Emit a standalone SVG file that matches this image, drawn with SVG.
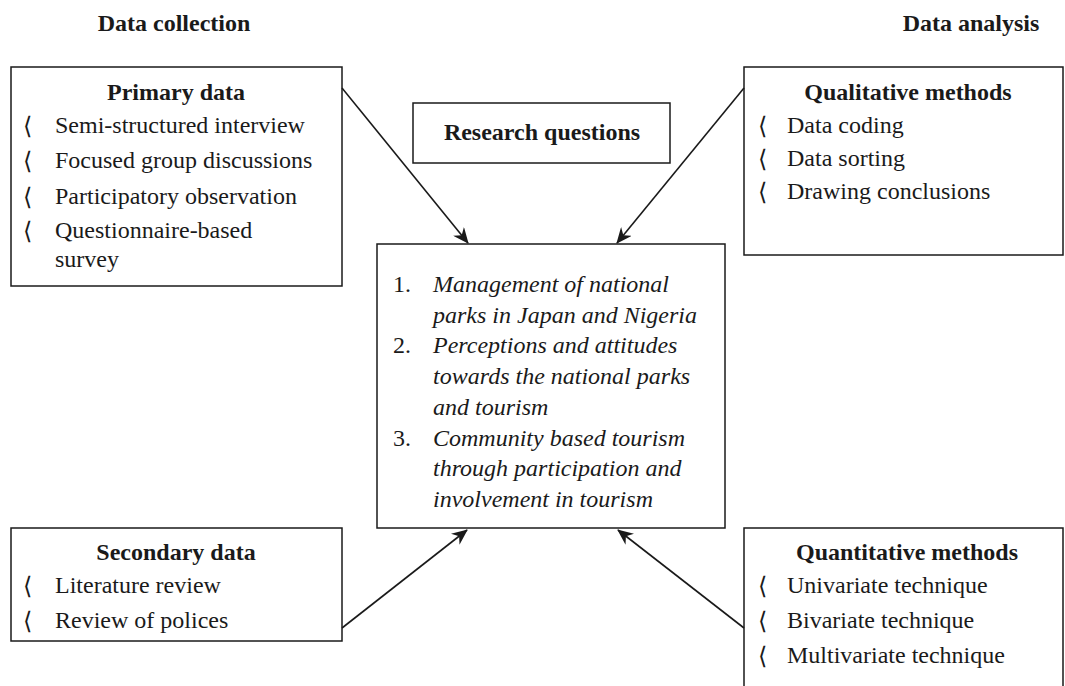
<svg xmlns="http://www.w3.org/2000/svg" width="1065" height="686" viewBox="0 0 1065 686">
<style>
.box{fill:#fff;stroke:#1a1a1a;stroke-width:1.5}
.t{font-family:"Liberation Serif","Times New Roman",serif;font-size:24px;fill:#1a1a1a}
.b{font-weight:bold}
.i{font-style:italic}
.m{text-anchor:middle}
.bl{font-family:"DejaVu Serif","Liberation Serif",serif;font-size:24px;fill:#1a1a1a}
.c{stroke:#1a1a1a;stroke-width:1.6;fill:none;marker-end:url(#ah)}
</style>
<defs>
<marker id="ah" markerUnits="userSpaceOnUse" markerWidth="18" markerHeight="14" refX="15" refY="7" orient="auto">
<path d="M0,0 L16,7 L0,14 L5,7 z" fill="#1a1a1a"/>
</marker>
</defs>
<rect width="1065" height="686" fill="#fff"/>
<g id="headers">
<text class="t b m" x="174" y="31">Data collection</text>
<text class="t b m" x="971" y="31">Data analysis</text>
</g>
<g id="primary">
<rect class="box" x="11" y="67" width="331" height="219"/>
<text class="t b m" x="176" y="100">Primary data</text>
<text class="bl" x="23" y="134">⟨</text><text class="t" x="55" y="133">Semi-structured interview</text>
<text class="bl" x="23" y="169">⟨</text><text class="t" x="55" y="168">Focused group discussions</text>
<text class="bl" x="23" y="205">⟨</text><text class="t" x="55" y="204">Participatory observation</text>
<text class="bl" x="23" y="239">⟨</text><text class="t" x="55" y="238">Questionnaire-based</text>
<text class="t" x="55" y="267">survey</text>
</g>
<g id="qualitative">
<rect class="box" x="744" y="67" width="319" height="188"/>
<text class="t b m" x="908" y="100">Qualitative methods</text>
<text class="bl" x="758" y="134">⟨</text><text class="t" x="787" y="133">Data coding</text>
<text class="bl" x="758" y="167">⟨</text><text class="t" x="787" y="166">Data sorting</text>
<text class="bl" x="758" y="200">⟨</text><text class="t" x="787" y="199">Drawing conclusions</text>
</g>
<g id="research-questions">
<rect class="box" x="413" y="103" width="257" height="60"/>
<text class="t b m" x="542" y="140">Research questions</text>
</g>
<g id="questions">
<rect class="box" x="377" y="244" width="348" height="284"/>
<text class="t" x="393" y="292">1.</text><text class="t i" x="433" y="292">Management of national</text>
<text class="t i" x="433" y="323">parks in Japan and Nigeria</text>
<text class="t" x="393" y="353">2.</text><text class="t i" x="433" y="353">Perceptions and attitudes</text>
<text class="t i" x="433" y="384">towards the national parks</text>
<text class="t i" x="433" y="415">and tourism</text>
<text class="t" x="393" y="446">3.</text><text class="t i" x="433" y="446">Community based tourism</text>
<text class="t i" x="433" y="476">through participation and</text>
<text class="t i" x="433" y="507">involvement in tourism</text>
</g>
<g id="secondary">
<rect class="box" x="11" y="528" width="331" height="113"/>
<text class="t b m" x="176" y="560">Secondary data</text>
<text class="bl" x="23" y="594">⟨</text><text class="t" x="55" y="593">Literature review</text>
<text class="bl" x="23" y="629">⟨</text><text class="t" x="55" y="628">Review of polices</text>
</g>
<g id="quantitative">
<path class="box" d="M744,686 L744,528 L1063,528 L1063,686"/>
<text class="t b m" x="907" y="560">Quantitative methods</text>
<text class="bl" x="758" y="594">⟨</text><text class="t" x="787" y="593">Univariate technique</text>
<text class="bl" x="758" y="629">⟨</text><text class="t" x="787" y="628">Bivariate technique</text>
<text class="bl" x="758" y="664">⟨</text><text class="t" x="787" y="663"> Multivariate technique</text>
</g>
<g id="connectors">
<line class="c" x1="342" y1="88" x2="468" y2="243"/>
<line class="c" x1="744" y1="88" x2="617" y2="243"/>
<line class="c" x1="342" y1="628" x2="467" y2="530"/>
<line class="c" x1="744" y1="628" x2="618" y2="530"/>
</g>
</svg>
